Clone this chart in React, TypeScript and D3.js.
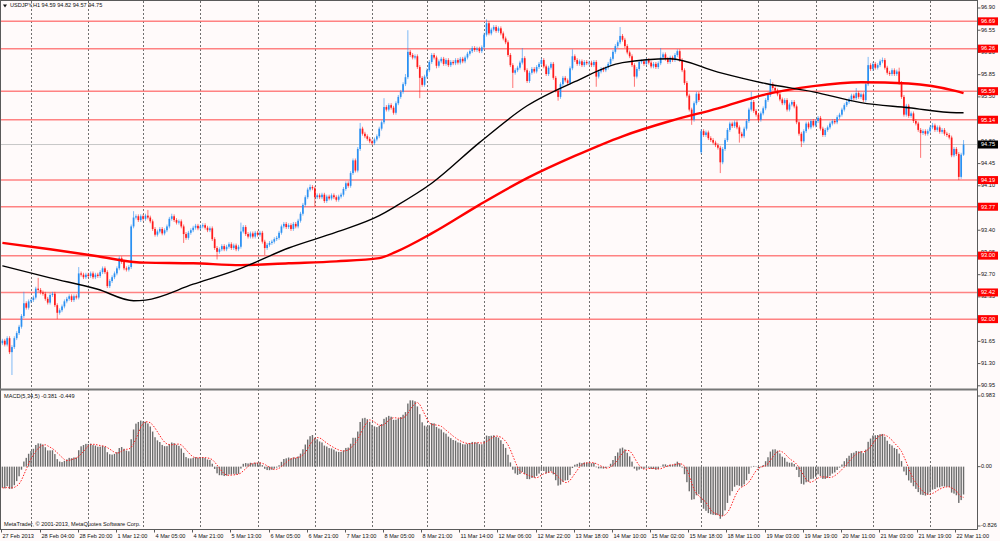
import { useEffect, useRef } from 'react'
import * as d3 from 'd3'

const W = 1000
const H = 541

// hourly closes, one line per trading day (27 Feb 12:00 .. 22 Mar 14:00)
const closes = [
  91.66, 91.6, 91.7, 91.48, 91.56, 91.7, 91.78, 91.88, 92.05, 92.25, 92.18, 92.28,
  92.3, 92.34, 92.48, 92.46, 92.42, 92.4, 92.32, 92.26, 92.38, 92.4, 92.22, 92.1, 92.14, 92.2, 92.28, 92.32, 92.36, 92.3, 92.36, 92.34, 92.72, 92.7, 92.66, 92.7,
  92.68, 92.72, 92.66, 92.7, 92.68, 92.74, 92.8, 92.74, 92.52, 92.6, 92.66, 92.72, 92.8, 92.96, 92.9, 92.8, 92.78, 92.82, 93.46, 93.6, 93.62, 93.56, 93.62,
  93.58, 93.63, 93.6, 93.54, 93.42, 93.33, 93.38, 93.42, 93.35, 93.4, 93.46, 93.58, 93.62, 93.56, 93.52, 93.54, 93.46, 93.34, 93.28, 93.36, 93.4, 93.44, 93.47, 93.43,
  93.46, 93.48, 93.44, 93.4, 93.43, 93.26, 93.12, 93.06, 93.1, 93.15, 93.1, 93.14, 93.18, 93.12, 93.16, 93.1, 93.14, 93.38, 93.45, 93.34, 93.3, 93.35, 93.3, 93.36,
  93.33, 93.36, 93.22, 93.12, 93.17, 93.2, 93.22, 93.26, 93.28, 93.36, 93.46, 93.5, 93.45, 93.48, 93.42, 93.5, 93.46, 93.55, 93.66, 93.8, 93.92, 94.04, 94.08, 94.06,
  93.92, 93.95, 93.92, 93.96, 93.86, 93.93, 93.9, 93.95, 93.92, 93.88, 93.93, 93.96, 94.05, 94.14, 94.1, 94.3, 94.5, 94.34, 94.68, 95.0, 94.92, 94.88, 94.84, 94.8,
  94.77, 94.83, 94.88, 95.0, 95.1, 95.34, 95.3, 95.37, 95.33, 95.25, 95.4, 95.5, 95.58, 95.7, 95.81, 96.21, 96.16, 96.12, 96.14, 95.97, 95.8, 95.69, 95.82,
  95.92, 96.05, 96.16, 96.12, 95.99, 96.06, 96.1, 96.02, 96.08, 96.0, 96.05, 96.03, 96.08, 96.04, 96.1, 96.06, 96.12, 96.18, 96.22, 96.27, 96.24, 96.26, 96.22, 96.28,
  96.48, 96.66, 96.5, 96.56, 96.6, 96.54, 96.58, 96.5, 96.42, 96.36, 96.16, 96.0, 95.88, 95.92, 95.96, 96.04, 96.11, 95.92, 95.75, 95.88, 95.94, 95.9, 95.97, 96.02,
  96.08, 95.98, 95.86, 95.96, 96.02, 95.8, 95.6, 95.5, 95.7, 95.8, 95.76, 95.72, 95.95, 96.14, 96.08, 96.02, 96.06, 96.0, 96.05, 96.03,
  96.04, 96.0, 96.05, 95.82, 95.9, 95.94, 95.92, 95.96, 96.02, 96.1, 96.21, 96.3, 96.36, 96.46, 96.4, 96.3, 96.2, 96.14, 96.0, 95.82, 95.94, 96.05, 96.06, 96.02,
  96.08, 96.04, 95.98, 96.02, 95.97, 96.03, 96.12, 96.17, 96.1, 96.05, 96.12, 96.08, 96.16, 96.22, 96.08, 95.92, 95.72, 95.52, 95.3, 95.14, 95.4, 95.55, 95.45,
  94.96, 94.9, 94.94, 94.85, 94.82, 94.78, 94.74, 94.7, 94.47, 94.68, 94.82, 94.98, 95.08, 95.04, 95.1, 95.02, 94.92, 94.88, 95.0, 95.12, 95.3, 95.42, 95.28, 95.22,
  95.14, 95.24, 95.32, 95.45, 95.53, 95.7, 95.64, 95.6, 95.54, 95.46, 95.4, 95.45, 95.3, 95.38, 95.42, 95.35, 95.1, 94.92, 94.8, 94.96, 95.08, 95.02, 95.12, 95.05,
  95.12, 95.17, 95.0, 94.9, 94.98, 95.02, 95.08, 95.12, 95.1, 95.18, 95.22, 95.3, 95.37, 95.42, 95.46, 95.52, 95.48, 95.56, 95.5, 95.54, 95.45, 95.7, 96.0, 95.94,
  96.02, 95.96, 96.0, 96.06, 96.08, 95.96, 95.88, 95.86, 95.92, 95.86, 95.9, 95.72, 95.5, 95.22, 95.36, 95.2, 95.24, 95.12, 95.08, 94.98, 94.93, 94.96, 94.92, 94.96,
  95.02, 95.05, 94.98, 95.02, 94.95, 94.98, 94.92, 94.9, 94.86, 94.58, 94.68, 94.6, 94.24, 94.59, 94.75,
]

const firstOpen = 91.62
// bars whose open is not the previous close (weekend gap)
const gapOpens: [number, number][] = [[293, 94.63]]

// long wicks [bar, price]
const highSpikes: [number, number][] = [
  [9, 92.43], [15, 92.65], [32, 92.82], [55, 93.7], [61, 93.72], [71, 93.66], [100, 93.52],
  [129, 94.12], [150, 95.09], [160, 95.48], [169, 95.86], [170, 96.55], [203, 96.72],
  [218, 96.27], [239, 96.25], [259, 96.6], [276, 96.27], [314, 95.58], [322, 95.78],
  [358, 95.64], [363, 96.13], [369, 96.12], [376, 95.96], [390, 95.09], [403, 94.82],
]
const lowSpikes: [number, number][] = [
  [4, 91.12], [23, 92.0], [76, 93.2], [90, 92.94], [110, 93.01], [131, 93.77], [175, 95.48],
  [182, 95.95], [214, 95.64], [233, 95.44], [249, 95.66], [265, 95.66], [289, 95.06],
  [301, 94.3], [309, 94.78], [335, 94.71], [385, 94.54], [401, 94.19], [403, 94.57],
]

// moving averages read at sample bars
const maBars = [0, 20, 40, 55, 60, 80, 100, 120, 140, 158, 165, 180, 200, 220, 240, 260, 280, 300, 320, 340, 360, 380, 400, 403]
const maBlack = [92.84, 92.65, 92.47, 92.29, 92.3, 92.55, 92.8, 93.12, 93.37, 93.63, 93.78, 94.14, 94.78, 95.36, 95.74, 96.04, 96.1, 95.89, 95.71, 95.58, 95.41, 95.33, 95.25, 95.25]
const maRed = [93.2, 93.1, 92.99, 92.9, 92.89, 92.88, 92.85, 92.88, 92.91, 92.96, 93.06, 93.35, 93.8, 94.22, 94.57, 94.88, 95.12, 95.32, 95.54, 95.67, 95.73, 95.71, 95.59, 95.56]

const levels = [96.69, 96.26, 95.59, 95.14, 94.19, 93.77, 93.0, 92.42, 92.0]
const bid = 94.75

const priceTicks = [96.9, 96.55, 96.2, 95.85, 95.5, 95.15, 94.8, 94.45, 94.1, 93.75, 93.4, 93.05, 92.7, 92.35, 92.0, 91.65, 91.3, 90.95]
const macdTicks = [0.983, 0, -0.826]

// day separators (bar index of 00:00)
const dayBars = [12, 36, 59, 83, 107, 131, 155, 178, 202, 226, 246, 270, 293, 317, 341, 365, 389]

const timeLabels = [
  '27 Feb 2013', '28 Feb 04:00', '28 Feb 20:00', '1 Mar 12:00', '4 Mar 05:00', '4 Mar 21:00',
  '5 Mar 13:00', '6 Mar 05:00', '6 Mar 21:00', '7 Mar 13:00', '8 Mar 05:00', '8 Mar 21:00',
  '11 Mar 14:00', '12 Mar 06:00', '12 Mar 22:00', '13 Mar 18:00', '14 Mar 10:00', '15 Mar 02:00',
  '15 Mar 18:00', '18 Mar 11:00', '19 Mar 03:00', '19 Mar 19:00', '20 Mar 11:00', '21 Mar 03:00',
  '21 Mar 19:00', '22 Mar 11:00',
]
const timeLabelBars = [0, 16, 32, 48, 64, 80, 96, 112, 128, 144, 160, 176, 192, 208, 224, 240, 256, 272, 288, 304, 320, 336, 352, 368, 384, 400]

// MACD(5,34,5); EMAs start from the level the history before the window left them at
const macdFast = 5
const macdSlow = 34
const macdSignal = 5
const macdSeed = { fast: 91.7, slow: 92.0 }

const FONT = 'Liberation Sans, Arial, sans-serif'
const BULL = '#2a90f2'
const BEAR = '#ff1a1a'

function ema(vals: number[], period: number, seed: number) {
  const k = 2 / (period + 1)
  let e = seed
  return vals.map((v) => (e = e + k * (v - e)))
}

export default function App() {
  const ref = useRef<SVGSVGElement>(null)

  useEffect(() => {
    if (!ref.current) return
    const svg = d3.select(ref.current)
    svg.selectAll('*').remove()

    const axisX = 977.5
    const bottomY = 529.5
    const n = closes.length

    const x = d3.scaleLinear().domain([0, n - 1]).range([2.4, 2.4 + (n - 1) * 2.385])
    const y = d3.scaleLinear().domain([90.95, 96.9]).range([385.8, 8])
    const ym = d3.scaleLinear().domain([-0.826, 0.983]).range([526, 396])

    svg.append('rect').attr('width', W).attr('height', H).attr('fill', '#fffafa')

    // vertical day grid
    svg
      .append('g')
      .selectAll('line')
      .data(dayBars)
      .join('line')
      .attr('x1', (d) => Math.round(x(d)) + 0.5)
      .attr('x2', (d) => Math.round(x(d)) + 0.5)
      .attr('y1', 1)
      .attr('y2', bottomY)
      .attr('stroke', '#333')
      .attr('stroke-opacity', 0.7)
      .attr('stroke-dasharray', '2,2')

    // bid line
    svg
      .append('line')
      .attr('x1', 1)
      .attr('x2', axisX)
      .attr('y1', y(bid))
      .attr('y2', y(bid))
      .attr('stroke', '#c8c8c8')

    // horizontal levels
    svg
      .append('g')
      .selectAll('line')
      .data(levels)
      .join('line')
      .attr('x1', 1)
      .attr('x2', axisX)
      .attr('y1', (d) => y(d))
      .attr('y2', (d) => y(d))
      .attr('stroke', '#ff6c6c')
      .attr('stroke-width', 1.5)
      .attr('stroke-opacity', 0.85)

    // candles
    const gapMap = new Map(gapOpens)
    const hiMap = new Map(highSpikes)
    const loMap = new Map(lowSpikes)
    const bars = closes.map((c, i) => {
      const o = gapMap.get(i) ?? (i === 0 ? firstOpen : closes[i - 1])
      const hi = hiMap.get(i) ?? Math.max(o, c) + 0.03
      const lo = loMap.get(i) ?? Math.min(o, c) - 0.03
      return { i, o, c, hi, lo }
    })
    const cg = svg.append('g')
    cg.selectAll('line')
      .data(bars)
      .join('line')
      .attr('x1', (d) => x(d.i))
      .attr('x2', (d) => x(d.i))
      .attr('y1', (d) => y(d.hi))
      .attr('y2', (d) => y(d.lo))
      .attr('stroke', (d) => (d.c >= d.o ? BULL : BEAR))
      .attr('stroke-opacity', 0.6)
      .attr('stroke-width', 1)
    cg.selectAll('rect')
      .data(bars)
      .join('rect')
      .attr('x', (d) => x(d.i) - 0.85)
      .attr('width', 1.7)
      .attr('y', (d) => y(Math.max(d.o, d.c)))
      .attr('height', (d) => Math.max(0.8, Math.abs(y(d.o) - y(d.c))))
      .attr('fill', (d) => (d.c >= d.o ? BULL : BEAR))

    // moving averages
    const maLine = d3
      .line<number>()
      .x((_, k) => x(maBars[k]))
      .y((d) => y(d))
      .curve(d3.curveMonotoneX)
    svg.append('path').attr('d', maLine(maRed)).attr('fill', 'none').attr('stroke', '#ff0000').attr('stroke-width', 2.4)
    svg.append('path').attr('d', maLine(maBlack)).attr('fill', 'none').attr('stroke', '#000').attr('stroke-width', 1.4)

    // MACD
    const fast = ema(closes, macdFast, macdSeed.fast)
    const slow = ema(closes, macdSlow, macdSeed.slow)
    const main = fast.map((f, i) => f - slow[i])
    const signal = main.map((_, i) => d3.mean(main.slice(Math.max(0, i - macdSignal + 1), i + 1)) as number)
    svg
      .append('g')
      .selectAll('rect')
      .data(main)
      .join('rect')
      .attr('x', (_, i) => x(i) - 0.7)
      .attr('width', 1.4)
      .attr('y', (d) => Math.min(ym(0), ym(d)))
      .attr('height', (d) => Math.abs(ym(d) - ym(0)))
      .attr('fill', '#6c6c6c')
    svg
      .append('path')
      .attr(
        'd',
        d3
          .line<number>()
          .x((_, i) => x(i))
          .y((d) => ym(d))(signal),
      )
      .attr('fill', 'none')
      .attr('stroke', '#ff2020')
      .attr('stroke-width', 1)
      .attr('stroke-dasharray', '1.5,1.5')

    // frame, axes and panel separator
    const frame = svg.append('g').attr('stroke', '#5a5a5a').attr('fill', 'none')
    frame.append('line').attr('x1', 0.5).attr('x2', 0.5).attr('y1', 0).attr('y2', bottomY)
    frame.append('line').attr('x1', 0).attr('x2', axisX).attr('y1', 0.5).attr('y2', 0.5)
    frame.append('line').attr('x1', axisX).attr('x2', axisX).attr('y1', 0).attr('y2', bottomY)
    frame.append('line').attr('x1', 0).attr('x2', axisX).attr('y1', bottomY).attr('y2', bottomY)
    frame.append('line').attr('x1', 0).attr('x2', axisX).attr('y1', 389.5).attr('y2', 389.5).attr('stroke-width', 2).attr('stroke', '#777')

    const txt = svg.append('g').attr('font-family', FONT).attr('font-size', 5.6).attr('fill', '#111')

    // price axis
    priceTicks.forEach((t) => {
      frame.append('line').attr('x1', axisX).attr('x2', axisX + 3).attr('y1', y(t)).attr('y2', y(t))
      txt.append('text').attr('x', 981).attr('y', y(t)).attr('dominant-baseline', 'middle').text(t.toFixed(2))
    })
    macdTicks.forEach((t) => {
      frame.append('line').attr('x1', axisX).attr('x2', axisX + 3).attr('y1', ym(t)).attr('y2', ym(t))
      txt
        .append('text')
        .attr('x', 981)
        .attr('y', ym(t))
        .attr('dominant-baseline', 'middle')
        .text(t === 0 ? '0.00' : t.toFixed(3))
    })

    // level price boxes
    const boxes = [...levels.map((v) => ({ v, fill: '#ff0000' })), { v: bid, fill: '#000' }]
    boxes.forEach((b) => {
      svg.append('rect').attr('x', 978).attr('y', y(b.v) - 4).attr('width', 20).attr('height', 8).attr('fill', b.fill)
      svg
        .append('text')
        .attr('x', 988)
        .attr('y', y(b.v) + 0.3)
        .attr('text-anchor', 'middle')
        .attr('dominant-baseline', 'middle')
        .attr('font-family', FONT)
        .attr('font-size', 5.6)
        .attr('fill', '#fff')
        .text(b.v.toFixed(2))
    })

    // time axis
    timeLabelBars.forEach((b, k) => {
      const px = Math.round(x(b)) - 0.5
      frame.append('line').attr('x1', px).attr('x2', px).attr('y1', bottomY).attr('y2', bottomY + 3)
      txt.append('text').attr('x', px + 1).attr('y', 536.5).attr('dominant-baseline', 'middle').text(timeLabels[k])
    })

    // captions
    svg.append('path').attr('d', 'M3,4.5 L7,4.5 L5,7.5 Z').attr('fill', '#111')
    txt.append('text').attr('x', 10).attr('y', 6).attr('dominant-baseline', 'middle').text('USDJPY,H1  94.59 94.82 94.57 94.75')
    txt.append('text').attr('x', 4).attr('y', 396.5).attr('dominant-baseline', 'middle').text('MACD(5,34,5) -0.381 -0.449')
    txt
      .append('text')
      .attr('x', 4)
      .attr('y', 525)
      .attr('dominant-baseline', 'middle')
      .text('MetaTrader, © 2001-2013, MetaQuotes Software Corp.')
  }, [])

  return <svg ref={ref} width={W} height={H} style={{ position: 'absolute', left: 0, top: 0 }} />
}
